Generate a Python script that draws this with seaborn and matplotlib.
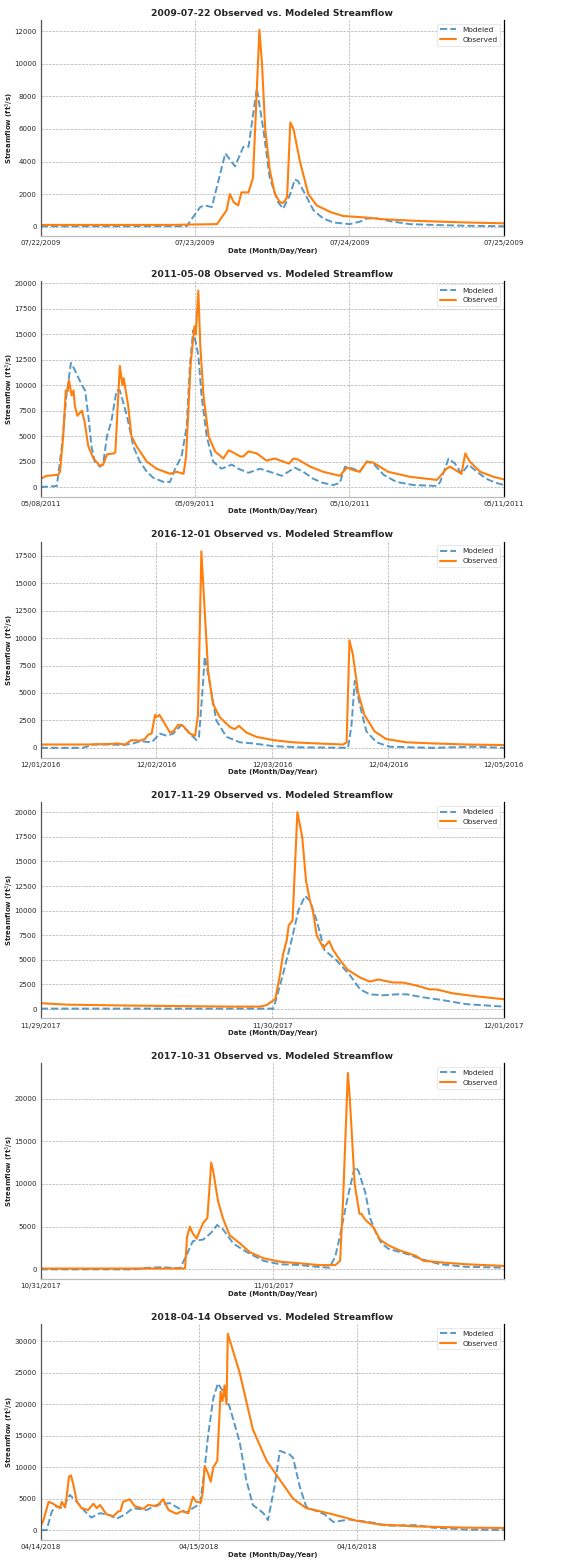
import numpy as np
import pandas as pd
import matplotlib
matplotlib.use('Agg')
import matplotlib.pyplot as plt
import matplotlib.dates as mdates
import seaborn as sns

# event start dates (titles)
events = ['2009-07-22', '2011-05-08', '2016-12-01', '2017-11-29', '2017-10-31', '2018-04-14']

# hours since start of event, values in ft^3/s
# --- 2009-07-22 ---
ev1_obs_h = [0, 10, 20, 27.4, 28.9, 29.4, 30.0, 30.7, 31.2, 32.3, 33.0, 34.0, 34.4, 34.9, 35.6, 36.4, 37.2, 37.7,
             38.3, 38.8, 39.3, 40.3, 41.6, 42.9, 45.0, 47.0, 50.7, 53.3, 58.4, 66.2, 72.0]
ev1_obs_q = [100, 100, 100, 150, 1000, 2000, 1500, 1300, 2100, 2100, 3000, 12100, 10000, 6000, 3500, 2000, 1500, 1450,
             1800, 6400, 6000, 4000, 2000, 1300, 900, 650, 550, 450, 350, 250, 200]
ev1_mod_h = [0, 10, 22.7, 24.8, 25.5, 26.6, 28.7, 30.2, 31.5, 32.3, 33.6, 34.6, 35.6, 36.9, 37.7, 38.8, 39.5, 40.0,
             41.1, 42.4, 43.9, 45.5, 48.0, 49.6, 50.7, 52.2, 54.8, 57.4, 61.0, 66.0, 72.0]
ev1_mod_q = [20, 20, 30, 1200, 1300, 1200, 4500, 3700, 4900, 4900, 8500, 6000, 3000, 1500, 1100, 2000, 2900, 2800,
             2000, 1000, 500, 250, 150, 300, 500, 500, 300, 150, 100, 50, 20]

# --- 2011-05-08 ---
ev2_obs_h = [0, 0.9, 2.7, 3.0, 3.5, 3.9, 4.2, 4.4, 4.8, 5.1, 5.3, 5.7, 6.4, 6.8, 7.4, 8.2, 9.2, 9.7, 10.3, 11.3,
             11.6, 12.3, 12.7, 12.9, 13.6, 14.1, 14.9, 16.5, 18.0, 20.1, 21.1, 22.2, 22.6, 23.3, 23.9, 24.1, 24.5,
             24.8, 25.3, 26.1, 27.1, 28.4, 29.2, 29.9, 31.0, 31.5, 32.3, 33.6, 35.1, 36.4, 37.7, 38.6, 39.3, 40.0,
             41.9, 43.9, 46.5, 47.6, 48.9, 49.6, 50.7, 51.7, 54.0, 57.4, 61.6, 63.1, 63.6, 64.9, 65.4, 66.0, 66.7,
             68.3, 70.4, 72.0]
ev2_obs_q = [800, 1100, 1200, 1500, 5000, 9500, 9400, 10500, 9000, 9500, 8000, 7000, 7500, 6500, 4000, 2800, 2100,
             2200, 3200, 3300, 3400, 11900, 10000, 10700, 8000, 5000, 4000, 2500, 1800, 1300, 1500, 1300, 3000,
             12000, 15800, 15000, 19300, 14000, 9000, 5000, 3500, 2800, 3600, 3400, 3000, 3000, 3500, 3300, 2600,
             2800, 2500, 2300, 2800, 2700, 2000, 1500, 1100, 1900, 1600, 1500, 2500, 2400, 1500, 1000, 700, 1800,
             2000, 1500, 1300, 3300, 2500, 1500, 1000, 750]
ev2_mod_h = [0, 2.5, 3.3, 4.0, 4.7, 5.3, 6.4, 6.9, 7.4, 7.9, 8.4, 9.2, 9.7, 10.3, 11.0, 11.8, 12.3, 13.4, 14.4, 15.4,
             16.5, 17.5, 19.1, 20.1, 20.9, 21.9, 22.7, 23.2, 23.7, 24.5, 25.0, 25.8, 26.8, 28.1, 29.7, 30.7, 32.3,
             34.1, 35.6, 37.5, 39.5, 40.8, 42.4, 43.9, 45.5, 46.5, 47.3, 48.6, 49.6, 50.7, 51.7, 53.3, 55.3, 57.9,
             61.6, 62.1, 63.4, 64.4, 65.4, 66.5, 67.8, 69.3, 70.8, 72.0]
ev2_mod_q = [0, 100, 4000, 9000, 12200, 11500, 10000, 9500, 7000, 4000, 2500, 2000, 2200, 5000, 6500, 9500, 9500,
             7000, 4000, 2500, 1500, 900, 500, 500, 1800, 3000, 6000, 12000, 15400, 13000, 9000, 5000, 2500, 1800,
             2200, 1800, 1400, 1800, 1500, 1100, 1900, 1500, 800, 400, 200, 400, 2000, 1800, 1500, 2500, 2300, 1200,
             500, 200, 100, 500, 2800, 2300, 1300, 2200, 1500, 800, 400, 200]

# --- 2016-12-01 ---
ev3_obs_h = [0, 9.5, 14.4, 15.8, 17.5, 18.8, 20.6, 21.6, 22.3, 23.0, 23.7, 24.0, 24.6, 25.7, 26.8, 27.5, 28.5, 29.5,
             30.9, 32.0, 32.6, 33.3, 33.8, 34.7, 35.7, 37.1, 39.2, 40.2, 41.1, 42.6, 44.7, 48.2, 52.3, 57.1, 62.7,
             63.4, 64.0, 64.7, 65.8, 67.1, 69.2, 71.6, 75.8, 81.3, 88.2, 96.0]
ev3_obs_q = [300, 300, 350, 400, 300, 700, 650, 800, 1200, 1300, 3000, 2800, 3000, 2200, 1400, 1500, 2100, 2000,
             1300, 1100, 3000, 17900, 14000, 7000, 4000, 2800, 1900, 1700, 2000, 1400, 1000, 700, 500, 400, 300,
             500, 9800, 8500, 5000, 3000, 1500, 800, 500, 400, 300, 250]
ev3_mod_h = [0, 8.8, 10.9, 14.4, 17.1, 19.2, 20.6, 23.0, 24.7, 26.1, 27.5, 29.2, 30.9, 32.3, 32.8, 33.5, 34.0, 35.0,
             36.4, 38.5, 41.3, 44.0, 48.2, 53.7, 63.7, 64.4, 65.1, 66.1, 67.5, 69.6, 72.3, 81.3, 89.6, 96.0]
ev3_mod_q = [0, 0, 300, 300, 250, 400, 600, 500, 1300, 1100, 1300, 2100, 1300, 700, 1000, 5000, 8300, 6000, 2500,
             1000, 500, 400, 150, 50, 0, 2000, 6100, 4000, 1500, 500, 100, 0, 100, 0]

# --- 2017-11-29 ---
ev4_obs_h = [0, 2.7, 9.6, 19.9, 22.7, 23.4, 24.3, 24.8, 25.1, 25.5, 25.7, 26.1, 26.6, 26.8, 27.1, 27.5, 27.9, 28.2,
             28.6, 29.3, 29.9, 30.3, 31.0, 31.8, 33.1, 34.1, 35.0, 36.5, 37.5, 38.9, 40.3, 41.0, 42.7, 45.1, 48.0]
ev4_obs_q = [600, 450, 350, 250, 250, 400, 1000, 3500, 5500, 7000, 8500, 9000, 20000, 19000, 17500, 13000, 11000,
             10000, 7500, 6200, 6900, 6000, 5000, 4000, 3200, 2800, 3000, 2700, 2700, 2400, 2000, 2000, 1600, 1300,
             1000]
ev4_mod_h = [0, 12.0, 24.1, 24.4, 25.1, 26.0, 26.7, 27.4, 27.9, 28.6, 29.4, 30.6, 32.0, 33.1, 34.1, 35.5, 36.9,
             37.9, 39.6, 41.7, 44.1, 48.0]
ev4_mod_q = [50, 50, 50, 1000, 3500, 7000, 10000, 11500, 11000, 9000, 6000, 5000, 3500, 2000, 1500, 1400, 1500,
             1500, 1200, 900, 500, 250]

# --- 2017-10-31 ---
ev5_obs_h = [0, 8.0, 14.7, 14.9, 15.1, 15.4, 15.7, 16.1, 16.4, 16.8, 17.2, 17.6, 17.8, 18.3, 18.8, 19.5, 20.6, 21.6,
             23.0, 24.7, 26.8, 28.8, 30.4, 30.9, 31.2, 31.6, 31.7, 31.9, 32.4, 32.9, 33.1, 33.5, 34.3, 35.0, 35.9,
             37.1, 38.4, 38.7, 39.5, 41.5, 43.9, 47.8]
ev5_obs_q = [100, 100, 100, 150, 3800, 5000, 4200, 3600, 4500, 5500, 6000, 12500, 11500, 8000, 6000, 4000, 3000,
             2000, 1300, 900, 700, 500, 500, 1000, 8000, 20000, 23000, 20000, 10000, 6500, 6500, 5800, 5000, 3500,
             2800, 2200, 1700, 1600, 1000, 800, 600, 400]
ev5_mod_h = [0, 9.6, 10.6, 12.3, 14.4, 15.1, 15.7, 16.8, 17.6, 18.2, 18.8, 19.9, 21.3, 23.0, 24.7, 26.8, 28.5,
             29.8, 30.4, 30.9, 31.6, 32.3, 32.5, 32.8, 33.5, 34.0, 34.7, 35.2, 35.9, 37.8, 39.3, 41.2, 43.9, 47.8]
ev5_mod_q = [0, 0, 150, 250, 150, 1800, 3300, 3500, 4300, 5200, 4700, 3000, 2000, 1000, 600, 500, 300, 200, 1500,
             4000, 8000, 11500, 12000, 11500, 9000, 6000, 4000, 3000, 2400, 1800, 1200, 600, 300, 200]

# --- 2018-04-14 ---
ev6_obs_h = [0, 0.4, 1.2, 1.7, 2.2, 2.9, 3.2, 3.7, 3.9, 4.3, 4.6, 5.0, 5.5, 6.2, 7.2, 8.0, 8.5, 9.0, 10.0, 11.0,
             11.8, 12.1, 12.5, 13.5, 14.3, 15.6, 16.3, 17.6, 18.6, 19.4, 20.6, 21.4, 22.4, 23.1, 23.6, 24.3, 24.6,
             24.9, 25.4, 25.8, 26.2, 26.8, 27.3, 27.6, 27.9, 28.2, 28.4, 30.2, 32.2, 34.3, 36.3, 38.3, 40.3, 44.4,
             47.9, 51.4, 57.0, 64.6, 70.3]
ev6_obs_q = [700, 1500, 4500, 4300, 4000, 3500, 4500, 3600, 5000, 8500, 8700, 7000, 4500, 3500, 3200, 4200, 3500,
             4000, 2500, 2200, 3000, 3000, 4500, 4900, 3800, 3400, 4000, 3800, 4900, 3200, 2600, 3000, 2700, 5300,
             4500, 4400, 6000, 10200, 9000, 7700, 10000, 11000, 22000, 20500, 23000, 20000, 31200, 25000, 16000,
             11000, 8000, 5000, 3500, 2500, 1500, 900, 600, 400, 350]
ev6_mod_h = [0, 0.9, 1.7, 2.4, 3.4, 4.4, 5.5, 6.7, 7.7, 9.0, 10.5, 11.5, 12.8, 14.0, 16.1, 17.6, 19.6, 20.9, 22.1,
             23.1, 24.2, 24.9, 25.4, 26.2, 26.9, 27.7, 28.7, 30.2, 31.2, 32.2, 33.8, 34.5, 35.5, 36.3, 37.8, 38.3,
             39.3, 40.3, 43.1, 44.4, 46.9, 50.4, 52.5, 57.0, 59.5, 64.6, 70.3]
ev6_mod_q = [0, 0, 3000, 3800, 3500, 5600, 4500, 3000, 2000, 2700, 2400, 1800, 2500, 3500, 3200, 4000, 4300, 3500,
             2800, 3500, 4200, 10000, 15000, 21000, 23300, 22000, 19500, 14000, 8000, 4000, 2700, 1600, 7000, 12600,
             12000, 11500, 7000, 3700, 2500, 1300, 1700, 1200, 700, 800, 400, 100, 50]

obs_hours = [ev1_obs_h, ev2_obs_h, ev3_obs_h, ev4_obs_h, ev5_obs_h, ev6_obs_h]
obs_flow = [ev1_obs_q, ev2_obs_q, ev3_obs_q, ev4_obs_q, ev5_obs_q, ev6_obs_q]
mod_hours = [ev1_mod_h, ev2_mod_h, ev3_mod_h, ev4_mod_h, ev5_mod_h, ev6_mod_h]
mod_flow = [ev1_mod_q, ev2_mod_q, ev3_mod_q, ev4_mod_q, ev5_mod_q, ev6_mod_q]

sns.set_style('whitegrid')
plt.rcParams['font.family'] = ['DejaVu Sans']

fig, axes = plt.subplots(6, 1, figsize=(5.7, 15.62), dpi=100)
fig.subplots_adjust(left=0.0714, right=0.884, top=0.9872, bottom=0.0141, hspace=0.207)

palette = {'Modeled': '#1f77b4', 'Observed': '#ff7f0e'}

for ax, ev, oh, oq, mh, mq in zip(axes, events, obs_hours, obs_flow, mod_hours, mod_flow):
    start = pd.Timestamp(ev)
    df = pd.concat([
        pd.DataFrame({'date': start + pd.to_timedelta(mh, unit='h'), 'flow': mq, 'series': 'Modeled'}),
        pd.DataFrame({'date': start + pd.to_timedelta(oh, unit='h'), 'flow': oq, 'series': 'Observed'}),
    ], ignore_index=True)

    sns.lineplot(data=df[df.series == 'Modeled'], x='date', y='flow', ax=ax, color=palette['Modeled'],
                 linestyle='--', linewidth=1.4, alpha=0.75, label='Modeled')
    sns.lineplot(data=df[df.series == 'Observed'], x='date', y='flow', ax=ax, color=palette['Observed'],
                 linewidth=1.5, label='Observed')

    ax.set_xlim(df.date.min(), df.date.max())
    ax.xaxis.set_major_locator(mdates.DayLocator())
    ax.xaxis.set_major_formatter(mdates.DateFormatter('%m/%d/%Y'))

    ax.set_title(f'{ev} Observed vs. Modeled Streamflow', fontsize=6.7, fontweight='bold', pad=3)
    ax.set_xlabel('Date (Month/Day/Year)', fontsize=5, fontweight='bold', labelpad=1)
    ax.set_ylabel('Streamflow (ft$^3$/s)', fontsize=5, fontweight='bold')
    ax.yaxis.set_label_coords(-0.053, 0.5)
    ax.tick_params(axis='both', labelsize=5, length=2, pad=1)

    ax.grid(True, linestyle='--', color='#999999', linewidth=0.5, alpha=0.8)
    ax.spines['top'].set_visible(False)
    ax.spines['left'].set_color('#555555')
    ax.spines['right'].set_color('black')
    ax.spines['bottom'].set_color('#bbbbbb')
    for s in ['left', 'right', 'bottom']:
        ax.spines[s].set_linewidth(0.9)

    leg = ax.legend(loc='upper right', fontsize=5.3, frameon=True, handlelength=2.2)
    leg.get_frame().set_edgecolor('#dddddd')
    leg.get_frame().set_linewidth(0.6)

fig.savefig('out.png', dpi=100)
